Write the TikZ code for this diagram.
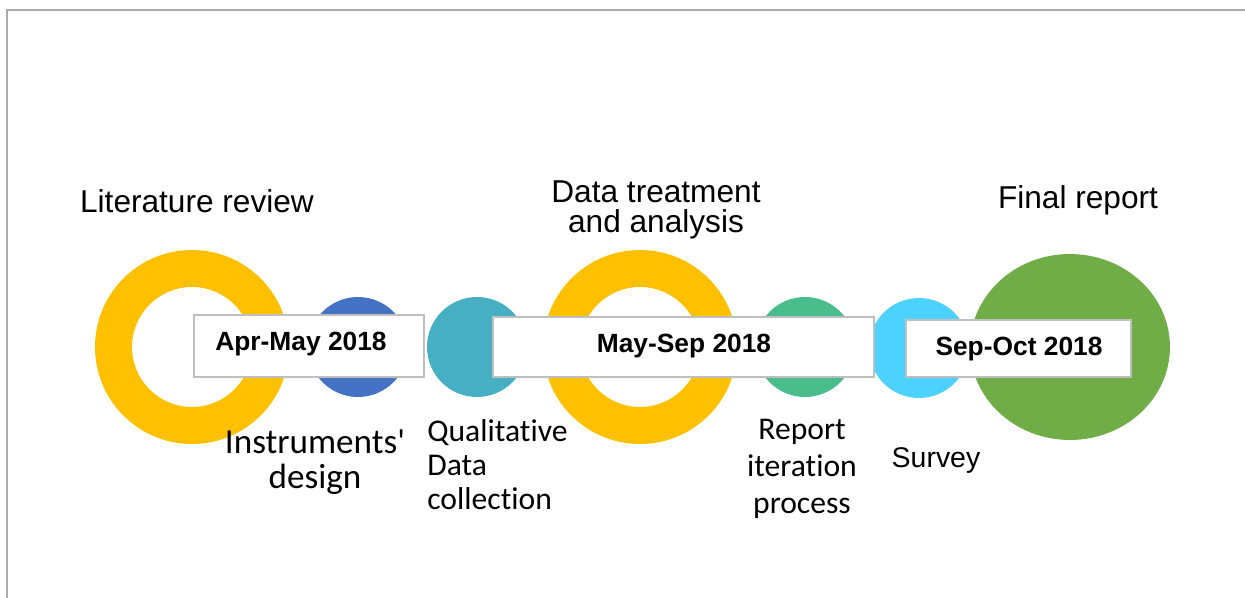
\documentclass[tikz,border=0pt]{standalone}
\usepackage{fontspec}
\setmainfont{Liberation Sans}
\newfontfamily\calibri{Carlito}[Ligatures=NoCommon]
\usepackage{tikz}
\usetikzlibrary{shapes.geometric, positioning}
\definecolor{ringyellow}{HTML}{FFC000}
\definecolor{instblue}{HTML}{4472C4}
\definecolor{qualteal}{HTML}{47AFC3}
\definecolor{repgreen}{HTML}{4ABD8C}
\definecolor{survblue}{HTML}{4DD2FF}
\definecolor{finalgreen}{HTML}{70AD47}
\definecolor{boxgray}{HTML}{BFBFBF}
\definecolor{framegray}{HTML}{ABABAB}

\begin{document}
\begin{tikzpicture}[x=0.02cm, y=-0.02cm,
    ring/.style={circle, draw=ringyellow, line width=0.74cm, minimum size=3.14cm, inner sep=0pt},
    dot/.style={circle, inner sep=0pt, minimum size=2cm},
    datebox/.style={draw=boxgray, line width=0.04cm, fill=white, inner sep=0pt},
    datetext/.style={font=\bfseries\fontsize{15}{18}\selectfont, anchor=base, inner sep=0pt},
    heading/.style={font=\fontsize{18}{17.6}\selectfont, anchor=base, align=center, inner sep=0pt},
    steplabel/.style={font=\calibri\fontsize{18}{19.3}\selectfont, anchor=base, inner sep=0pt}]
    \useasboundingbox (0,0) rectangle (1245,598);
    \draw[framegray, line width=0.04cm] (7,598) -- (7,10) -- (1245,10);

    % Apr-May 2018
    \node[ring] (lit) at (192,347) {};
    \node[dot, fill=instblue] (inst) at (358,347) {};
    \node[datebox, minimum width=4.6cm, minimum height=1.24cm] (box1) at (309,346) {};
    \node[datetext] (date1) at (301,350) {Apr-May 2018};

    % May-Sep 2018
    \node[dot, fill=qualteal] (qual) at (477,347) {};
    \node[ring] (treat) at (640,347) {};
    \node[dot, fill=repgreen] (iter) at (805,347) {};
    \node[dot, fill=survblue] (surv) at (919,348) {};
    \node[datebox, minimum width=7.62cm, minimum height=1.2cm] (box2) at (683.5,347) {};
    \node[datetext] (date2) at (684,352) {May-Sep 2018};

    % Sep-Oct 2018
    \node[ellipse, fill=finalgreen, inner sep=0pt, minimum width=4cm, minimum height=3.72cm] (final) at (1070,347) {};
    \node[datebox, minimum width=4.5cm, minimum height=1.14cm] (box3) at (1018.5,348.5) {};
    \node[datetext] (date3) at (1019,355) {Sep-Oct 2018};

    % labels (base = last line)
    \node[heading] (littext) at (197,213) {Literature review};
    \node[heading] (treattext) at (656,233) {Data treatment\\and analysis};
    \node[heading] (finaltext) at (1078,209) {Final report};
    \node[steplabel, align=center, font=\calibri\fontsize{20}{19.9}\selectfont] (insttext) at (315,488) {Instruments\textquotesingle\\design};
    \node[steplabel, align=left, anchor=base west] (qualtext) at (427,509) {Qualitative\\Data\\collection};
    \node[steplabel, align=center, font=\calibri\fontsize{18}{21}\selectfont] (itertext) at (802,513) {Report\\iteration\\process};
    \node[anchor=base, inner sep=0pt, font=\fontsize{16.2}{19}\selectfont] (survtext) at (936,467) {Survey};
\end{tikzpicture}
\end{document}
